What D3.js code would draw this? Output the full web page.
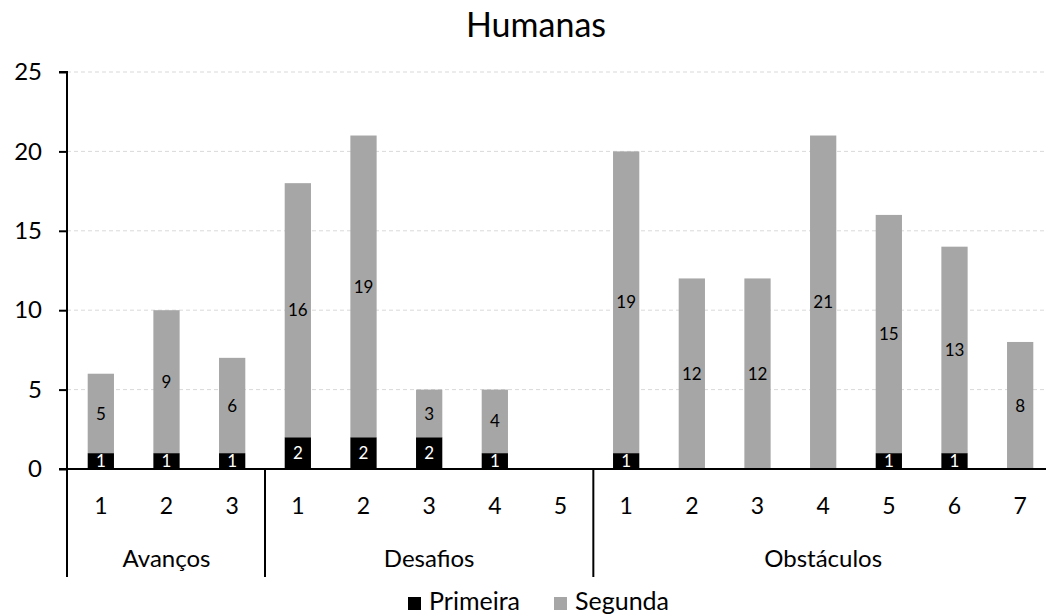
<!DOCTYPE html>
<html>
<head>
<meta charset="utf-8">
<script src="https://cdn.jsdelivr.net/npm/d3@7"></script>
<style>
  html, body { margin: 0; padding: 0; background: #fff; }
  svg { display: block; font-family: Lato, "Noto Sans", sans-serif; }
</style>
</head>
<body>
<svg id="chart" width="1046" height="616"></svg>
<script>
// Category groups and item numbers along the x axis
const categoryGroup = ["Avanços","Avanços","Avanços",
  "Desafios","Desafios","Desafios","Desafios","Desafios",
  "Obstáculos","Obstáculos","Obstáculos","Obstáculos","Obstáculos","Obstáculos","Obstáculos"];
const categoryLabel = ["1","2","3","1","2","3","4","5","1","2","3","4","5","6","7"];

// Series values (stacked: Primeira at the bottom, Segunda on top)
const primeira = [1,1,1,2,2,2,1,0,1,0,0,0,1,1,0];
const segunda  = [5,9,6,16,19,3,4,0,19,12,12,21,15,13,8];

const seriesNames = ["Primeira","Segunda"];
const seriesColors = ["#000000","#a6a6a6"];
const yTicks = [0,5,10,15,20,25];

const svg = d3.select("#chart");
const W = 1046;
const plotLeft = 67, plotRight = 1053, plotTop = 72, plotBottom = 469;

const keys = categoryLabel.map((_, i) => i);
const x = d3.scaleBand().domain(keys).range([plotLeft + 1, plotRight]).paddingInner(0.6).paddingOuter(0.3);
const y = d3.scaleLinear().domain([0, 25]).range([plotBottom, plotTop]);

// Title
svg.append("text").attr("x", 536).attr("y", 37).attr("text-anchor", "middle")
  .attr("font-size", 34).attr("fill", "#000").text("Humanas");

// Gridlines
svg.append("g").selectAll("line").data(yTicks.filter(d => d > 0)).join("line")
  .attr("x1", plotLeft).attr("x2", W).attr("y1", d => y(d)).attr("y2", d => y(d))
  .attr("stroke", "#d9d9d9").attr("stroke-width", 1).attr("stroke-dasharray", "4,3");

// Stacked bars
const table = keys.map(i => ({ key: i, Primeira: primeira[i], Segunda: segunda[i] }));
const stacked = d3.stack().keys(seriesNames)(table);

const layers = svg.append("g").selectAll("g").data(stacked).join("g")
  .attr("fill", (d, i) => seriesColors[i]);
layers.selectAll("rect").data(d => d).join("rect")
  .attr("x", d => x(d.data.key))
  .attr("width", x.bandwidth())
  .attr("y", d => y(d[1]))
  .attr("height", d => y(d[0]) - y(d[1]));

// Value labels inside segments
stacked.forEach((layer, si) => {
  svg.append("g").selectAll("text").data(layer.filter(d => d[1] - d[0] > 0)).join("text")
    .attr("x", d => x(d.data.key) + x.bandwidth() / 2)
    .attr("y", d => y((d[0] + d[1]) / 2))
    .attr("dy", "0.36em")
    .attr("text-anchor", "middle")
    .attr("font-size", 17)
    .attr("fill", si === 0 ? "#ffffff" : "#000000")
    .text(d => d[1] - d[0]);
});

// Y axis
const yAxis = svg.append("g").attr("transform", `translate(${plotLeft},0)`)
  .call(d3.axisLeft(y).tickValues(yTicks).tickSize(8).tickPadding(17).tickFormat(d3.format("d")));
yAxis.select(".domain").attr("stroke", "#000").attr("stroke-width", 2).attr("d", `M-8,${plotTop}H0V${plotBottom}`);
yAxis.selectAll(".tick line").attr("stroke", "#000").attr("stroke-width", 2);
yAxis.selectAll(".tick text").attr("font-size", 24).attr("font-family", "Lato, sans-serif").attr("fill", "#000");

// X axis with item numbers
const xAxis = svg.append("g").attr("transform", `translate(0,${plotBottom})`)
  .call(d3.axisBottom(x).tickSize(0).tickPadding(29).tickFormat(i => categoryLabel[i]));
xAxis.select(".domain").remove();
xAxis.selectAll(".tick text").attr("font-size", 23).attr("font-family", "Lato, sans-serif").attr("fill", "#000");
svg.append("line").attr("x1", plotLeft - 8).attr("x2", W).attr("y1", plotBottom).attr("y2", plotBottom)
  .attr("stroke", "#000").attr("stroke-width", 2);

// Group separators and group labels
const groups = Array.from(new Set(categoryGroup));
const step = x.step();
const sepBottom = 577;
groups.forEach((g, gi) => {
  const idx = keys.filter(i => categoryGroup[i] === g);
  const first = x(idx[0]) + x.bandwidth() / 2 - step / 2;
  const last = x(idx[idx.length - 1]) + x.bandwidth() / 2 + step / 2;
  svg.append("line").attr("x1", gi === 0 ? plotLeft : first).attr("x2", gi === 0 ? plotLeft : first)
    .attr("y1", plotBottom).attr("y2", sepBottom).attr("stroke", "#000").attr("stroke-width", 2);
  svg.append("text").attr("x", (first + last) / 2).attr("y", 567).attr("text-anchor", "middle")
    .attr("font-size", 24).attr("fill", "#000").text(g);
});

// Legend
const legendItems = [{ name: "Primeira", x: 408 }, { name: "Segunda", x: 554 }];
legendItems.forEach((it, i) => {
  svg.append("rect").attr("x", it.x).attr("y", 597).attr("width", 13).attr("height", 13).attr("fill", seriesColors[i]);
  svg.append("text").attr("x", it.x + 21).attr("y", 610).attr("font-size", 25).attr("fill", "#000").text(it.name);
});
</script>
</body>
</html>
